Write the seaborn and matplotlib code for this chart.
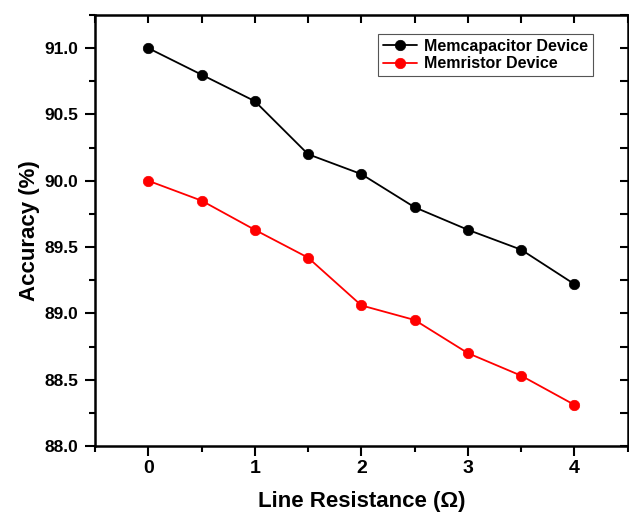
import matplotlib
matplotlib.use("Agg")
import matplotlib.pyplot as plt
from matplotlib.ticker import MultipleLocator, FormatStrFormatter
import seaborn as sns
import pandas as pd

# Line resistance values (Ohm) and recognition accuracy (%) for both devices
resistance = [0, 0.5, 1, 1.5, 2, 2.5, 3, 3.5, 4]
memcapacitor_acc = [91.00, 90.80, 90.60, 90.20, 90.05, 89.80, 89.63, 89.48, 89.22]
memristor_acc = [90.00, 89.85, 89.63, 89.42, 89.06, 88.95, 88.70, 88.53, 88.31]
series_names = ["Memcapacitor Device", "Memristor Device"]
series_colors = ["black", "red"]

df = pd.DataFrame({
    "Line Resistance": resistance * 2,
    "Accuracy": memcapacitor_acc + memristor_acc,
    "Device": [series_names[0]] * len(resistance) + [series_names[1]] * len(resistance),
})

sns.set_style("white")
plt.rcParams["font.family"] = ["Liberation Sans", "DejaVu Sans"]
plt.rcParams["font.weight"] = "bold"
plt.rcParams["axes.labelweight"] = "bold"
for key in ("text.color", "axes.labelcolor", "xtick.color", "ytick.color",
            "xtick.labelcolor", "ytick.labelcolor", "axes.edgecolor"):
    plt.rcParams[key] = "black"

fig = plt.figure(figsize=(6.29, 5.16), dpi=100)
ax = fig.add_axes([0.151, 0.1357, 0.847, 0.8353])

sns.lineplot(
    data=df, x="Line Resistance", y="Accuracy", hue="Device", style="Device",
    palette=dict(zip(series_names, series_colors)),
    markers={n: "o" for n in series_names}, dashes=False,
    markersize=7.5, linewidth=1.3, ax=ax,
)
for line in ax.lines:
    line.set_markeredgecolor(line.get_color())
    line.set_markeredgewidth(0.5)

ax.set_xlim(-0.5, 4.5)
ax.set_ylim(88.0, 91.25)

ax.xaxis.set_major_locator(MultipleLocator(1))
ax.xaxis.set_minor_locator(MultipleLocator(0.5))
ax.yaxis.set_major_locator(MultipleLocator(0.5))
ax.yaxis.set_minor_locator(MultipleLocator(0.25))
ax.yaxis.set_major_formatter(FormatStrFormatter("%.1f"))

ax.tick_params(axis="x", which="major", direction="out", length=7, width=1.5,
               labelsize=14, pad=3, bottom=True, colors="black")
ax.tick_params(axis="x", which="minor", direction="out", length=4, width=1.5,
               bottom=True, colors="black")
ax.tick_params(axis="y", which="major", direction="out", length=7, width=1.5,
               labelsize=12.5, pad=5, left=True, colors="black")
ax.tick_params(axis="y", which="minor", direction="out", length=4, width=1.5,
               left=True, colors="black")
for lbl in ax.get_xticklabels() + ax.get_yticklabels():
    lbl.set_fontweight("bold")

# Inward ticks on the top and right frame edges
top = ax.secondary_xaxis("top")
top.xaxis.set_major_locator(MultipleLocator(0.5))
top.tick_params(axis="x", direction="in", length=6, width=1.5, labeltop=False, colors="black")
right = ax.secondary_yaxis("right")
right.yaxis.set_major_locator(MultipleLocator(0.25))
right.tick_params(axis="y", direction="in", length=6, width=1.5, labelright=False, colors="black")
for sec in (top, right):
    for sp in sec.spines.values():
        sp.set_visible(False)

for sp in ax.spines.values():
    sp.set_visible(True)
    sp.set_color("black")
    sp.set_linewidth(1.8)

ax.set_xlabel("Line Resistance (\u03a9)", fontsize=16, fontweight="bold",
              labelpad=10, color="black")
ax.set_ylabel("Accuracy (%)", fontsize=16, fontweight="bold", labelpad=3, color="black")

leg = ax.legend(
    loc="upper right", bbox_to_anchor=(0.934, 0.956), borderaxespad=0,
    frameon=True, fancybox=False, edgecolor="#555555", framealpha=1,
    prop={"size": 11.5, "weight": "bold"}, handlelength=2.1, handletextpad=0.45,
    labelspacing=0.15, borderpad=0.3,
)
leg.get_frame().set_linewidth(0.8)
for txt in leg.get_texts():
    txt.set_color("black")

fig.savefig("out.png", dpi=100, facecolor="white")
